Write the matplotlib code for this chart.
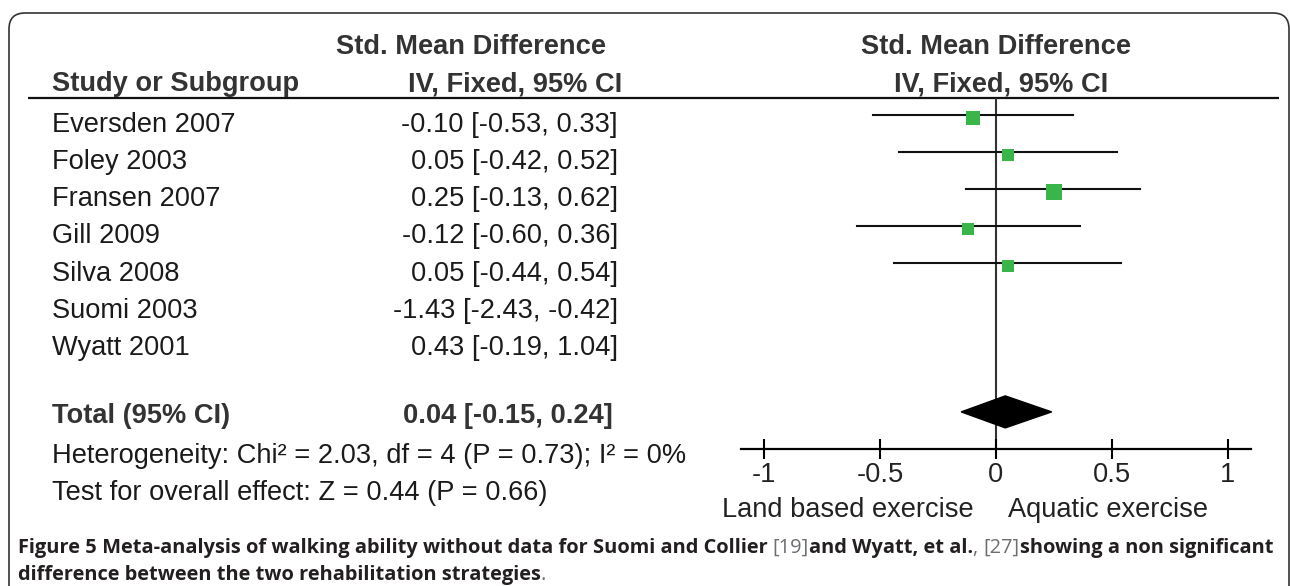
import numpy as np
import matplotlib
matplotlib.use("Agg")
import matplotlib.pyplot as plt
from matplotlib import transforms
from matplotlib.patches import FancyBboxPatch, Polygon


W, H = 1290, 586

STUDIES = ["Eversden 2007", "Foley 2003", "Fransen 2007", "Gill 2009",
           "Silva 2008", "Suomi 2003", "Wyatt 2001"]
SMD = [-0.10, 0.05, 0.25, -0.12, 0.05, -1.43, 0.43]
CI_LOW = [-0.53, -0.42, -0.13, -0.60, -0.44, -2.43, -0.19]
CI_HIGH = [0.33, 0.52, 0.62, 0.36, 0.54, -0.42, 1.04]
IN_PLOT = [True, True, True, True, True, False, False]
WEIGHTS = [21.2, 17.7, 27.8, 17.0, 16.3, 0.0, 0.0]

TOTAL_SMD = 0.04
TOTAL_LOW = -0.15
TOTAL_HIGH = 0.24
TOTAL_ROW = 8

HETEROGENEITY = "Heterogeneity: Chi² = 2.03, df = 4 (P = 0.73); I² = 0%"
OVERALL = "Test for overall effect: Z = 0.44 (P = 0.66)"
TICKS = [-1, -0.5, 0, 0.5, 1]
TICK_LABELS = ["-1", "-0.5", "0", "0.5", "1"]
FAVOURS = ["Land based exercise", "Aquatic exercise"]

CAPTION_1 = [
    ("Figure 5", "bold", "#231f20"),
    (" Meta-analysis of walking ability without data for Suomi and Collier ", "bold", "#231f20"),
    ("[19]", "normal", "#6d6e71"),
    ("and Wyatt, et al.", "bold", "#231f20"),
    (", ", "normal", "#6d6e71"),
    ("[27]", "normal", "#6d6e71"),
    ("showing a non significant", "bold", "#231f20"),
]
CAPTION_2 = [
    ("difference between the two rehabilitation strategies", "bold", "#231f20"),
    (".", "normal", "#6d6e71"),
]

FONT = "Liberation Sans"
FS = 19.6
GREEN = "#39b54a"

plt.rcParams["axes.unicode_minus"] = False

fig = plt.figure(figsize=(W / 100, H / 100), dpi=100)

# full-figure canvas in pixel coordinates
canvas = fig.add_axes([0, 0, 1, 1])
canvas.set_xlim(0, W)
canvas.set_ylim(H, 0)
canvas.axis("off")

box = FancyBboxPatch((9, 13), 1280, 620, boxstyle="round,pad=0,rounding_size=16",
                     fill=False, edgecolor="#333333", linewidth=1.2)
canvas.add_patch(box)
canvas.plot([28, 1279], [98, 98], color="#111111", linewidth=1.6, solid_capstyle="butt")

# forest plot axes: x in effect units, y in rows
fx = fig.add_axes([740.8 / W, 1 - 449 / H, 510.4 / W, (449 - 98) / H])
fx.patch.set_alpha(0)
fx.set_xlim(-1.1, 1.1)
fx.set_ylim(9.0, -0.46)
for side in ["top", "left", "right"]:
    fx.spines[side].set_visible(False)
fx.spines["bottom"].set_linewidth(1.6)
fx.set_yticks([])
fx.set_xticks(TICKS)
fx.set_xticklabels(TICK_LABELS, fontfamily=FONT, fontsize=FS, color="#222222")
fx.tick_params(axis="x", direction="inout", length=14, width=1.5, pad=2)

fx.axvline(0, color="#333333", linewidth=1.5, zorder=1)

for i in range(len(STUDIES)):
    if not IN_PLOT[i]:
        continue
    fx.plot([CI_LOW[i], CI_HIGH[i]], [i, i], color="#111111", linewidth=1.5, zorder=2)
    side_px = 13.3 * np.sqrt(WEIGHTS[i] / WEIGHTS[0])
    fx.plot(SMD[i], i + 0.07, marker="s", markersize=side_px * 0.72,
            color=GREEN, markeredgewidth=0, zorder=3)

half = 16 / 37.1
diamond = Polygon([[TOTAL_LOW, TOTAL_ROW], [TOTAL_SMD, TOTAL_ROW - half],
                   [TOTAL_HIGH, TOTAL_ROW], [TOTAL_SMD, TOTAL_ROW + half]],
                  closed=True, facecolor="black", edgecolor="black", zorder=3)
fx.add_patch(diamond)

# table text: x in pixels, y in row units
row_tr = transforms.blended_transform_factory(canvas.transData, fx.transData)
for i, name in enumerate(STUDIES):
    est = f"{SMD[i]:.2f} [{CI_LOW[i]:.2f}, {CI_HIGH[i]:.2f}]"
    canvas.text(52, i + 0.46, name, transform=row_tr, fontfamily=FONT, fontsize=FS,
                color="#1a1a1a", va="baseline", ha="left")
    canvas.text(618, i + 0.46, est, transform=row_tr, fontfamily=FONT, fontsize=FS,
                color="#1a1a1a", va="baseline", ha="right")

total_est = f"{TOTAL_SMD:.2f} [{TOTAL_LOW:.2f}, {TOTAL_HIGH:.2f}]"
canvas.text(52, TOTAL_ROW + 0.3, "Total (95% CI)", transform=row_tr, fontfamily=FONT,
            fontsize=FS, fontweight="bold", color="#333333", va="baseline")
canvas.text(613, TOTAL_ROW + 0.3, total_est, transform=row_tr, fontfamily=FONT,
            fontsize=FS, fontweight="bold", color="#333333", va="baseline", ha="right")
canvas.text(52, 463, HETEROGENEITY, fontfamily=FONT, fontsize=FS, color="#1a1a1a", va="baseline")
canvas.text(52, 500, OVERALL, fontfamily=FONT, fontsize=FS, color="#1a1a1a", va="baseline")

# headers
hdr = dict(fontfamily=FONT, fontsize=FS, fontweight="bold", color="#333333", va="baseline")
canvas.text(52, 91, "Study or Subgroup", ha="left", **hdr)
canvas.text(471, 54, "Std. Mean Difference", ha="center", **hdr)
canvas.text(515, 91, "IV, Fixed, 95% CI", ha="center", **hdr)
head_tr = transforms.blended_transform_factory(fx.transData, canvas.transData)
canvas.text(0, 54, "Std. Mean Difference", transform=head_tr, ha="center", **hdr)
canvas.text(0.02, 91, "IV, Fixed, 95% CI", transform=head_tr, ha="center", **hdr)

# favours labels under the axis
canvas.text(-0.095, 517, FAVOURS[0], transform=head_tr, ha="right", va="baseline",
            fontfamily=FONT, fontsize=FS, color="#222222")
canvas.text(0.05, 517, FAVOURS[1], transform=head_tr, ha="left", va="baseline",
            fontfamily=FONT, fontsize=FS, color="#222222")

# caption with mixed weights
renderer = fig.canvas.get_renderer()
for pieces, y in [(CAPTION_1, 553), (CAPTION_2, 580)]:
    x = 18
    for txt, weight, col in pieces:
        t = canvas.text(x, y, txt, fontfamily="Open Sans", fontsize=14.4,
                        fontweight=weight, color=col, va="baseline", ha="left")
        bb = t.get_window_extent(renderer)
        x += bb.width

fig.savefig("out.png", dpi=100)
